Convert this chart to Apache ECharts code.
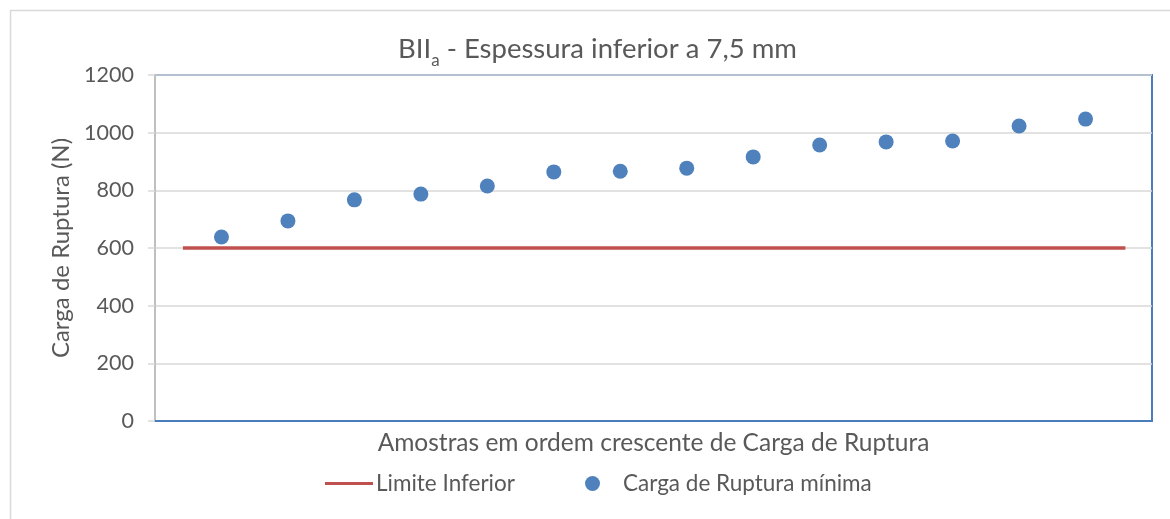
<!DOCTYPE html>
<html><head><meta charset="utf-8">
<script src="https://cdn.jsdelivr.net/npm/echarts@6/dist/echarts.min.js"></script>
<style>html,body{margin:0;padding:0;background:#fff}#c{width:1170px;height:519px}</style>
</head><body><div id="c"></div>
<script>
const sampleIdx = [1,2,3,4,5,6,7,8,9,10,11,12,13,14];
const cargaMin = [638,694,767,787,815,864,866,877,916,957,968,971,1023,1047];
const limiteX = [0.42,14.6];
const limiteY = [600,600];
const yTicks = [0,200,400,600,800,1000,1200];

const FONT = 'Lato';
const TXT = '#595959';
const chart = echarts.init(document.getElementById('c'));
chart.setOption({
  animation:false,
  textStyle:{fontFamily:FONT},
  graphic:[{type:'rect',shape:{x:10.5,y:10.5,width:1170,height:520},style:{fill:'none',stroke:'#d9d9d9',lineWidth:1.5},z:-1}],
  title:{
    text:'{m|BII}{s|a}{m| - Espessura inferior a 7,5 mm}',
    left:393, top:30,
    textStyle:{rich:{
      m:{fontFamily:FONT,fontSize:27.5,color:TXT,fontWeight:'normal',verticalAlign:'bottom'},
      s:{fontFamily:FONT,fontSize:17,color:TXT,fontWeight:'normal',verticalAlign:'bottom',padding:[0,0,-6,0]}
    }}
  },
  legend:[
    {data:[{name:'Limite Inferior',icon:'rect'}],left:320,top:467,itemWidth:48,itemHeight:3,itemGap:0,
     textStyle:{fontFamily:FONT,fontSize:22.5,color:TXT,padding:[0,0,0,-2]}},
    {data:[{name:'Carga de Ruptura mínima',icon:'circle'}],left:580,top:467,itemWidth:15,itemHeight:15,
     textStyle:{fontFamily:FONT,fontSize:22.5,color:TXT,padding:[0,0,0,18]}}
  ],
  grid:{left:155,right:18,top:75,bottom:98,show:true,borderColor:'#4a7ebb',borderWidth:2,backgroundColor:'transparent'},
  xAxis:{type:'value',min:0,max:15,
    name:'Amostras em ordem crescente de Carga de Ruptura',nameLocation:'middle',nameGap:10,
    nameTextStyle:{fontFamily:FONT,fontSize:24.5,color:TXT,verticalAlign:'top'},
    axisLine:{show:true,lineStyle:{color:'#4a7ebb',width:2}},axisTick:{show:false},axisLabel:{show:false},splitLine:{show:false}},
  yAxis:{type:'value',min:0,max:1200,interval:200,
    name:'Carga de Ruptura (N)',nameLocation:'middle',nameGap:81,nameRotate:90,
    nameTextStyle:{fontFamily:FONT,fontSize:24,color:TXT},
    axisLine:{show:true,lineStyle:{color:'#bfbfbf',width:2}},
    axisTick:{show:true,length:7,lineStyle:{color:'#d9d9d9',width:1.5}},
    axisLabel:{fontFamily:FONT,fontSize:21.5,color:TXT,margin:21,
      formatter:v=>yTicks.includes(v)?String(v):''},
    splitLine:{show:true,lineStyle:{color:'#d9d9d9',width:1.5}}},
  series:[
    {name:'Limite Inferior',type:'line',data:limiteX.map((x,i)=>[x,limiteY[i]]),symbol:'none',
     lineStyle:{color:'#c0504d',width:3.5},itemStyle:{color:'#c0504d'},z:3},
    {name:'Carga de Ruptura mínima',type:'scatter',data:sampleIdx.map((x,i)=>[x,cargaMin[i]]),
     symbolSize:15,itemStyle:{color:'#4f81bd',opacity:1},z:4}
  ]
});
</script></body></html>
